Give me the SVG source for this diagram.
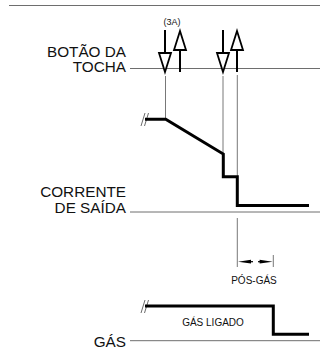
<svg xmlns="http://www.w3.org/2000/svg" width="320" height="353" viewBox="0 0 320 353">
<style>
.ref{stroke:#6e6e6e;stroke-width:1;fill:none}
.thin{stroke:#555;stroke-width:0.8;fill:none}
.wave{stroke:#000;stroke-width:3;fill:none;stroke-linejoin:miter}
.stem{stroke:#000;stroke-width:2;fill:none}
.head{stroke:#000;stroke-width:1.8;fill:#fff;stroke-linejoin:miter}
.lbl{font-family:"Liberation Sans",Arial,sans-serif;font-size:15.3px;fill:#111;text-anchor:end}
.sm{font-family:"Liberation Sans",Arial,sans-serif;font-size:10px;fill:#111;text-anchor:middle}
.brk{stroke:#444;stroke-width:0.8;fill:none}
</style>
<line class="ref" x1="9" y1="5.5" x2="320" y2="5.5"/>
<g id="button">
<text class="lbl" x="126" y="56.5">BOTÃO DA</text>
<text class="lbl" x="126" y="72">TOCHA</text>
<line class="ref" x1="130" y1="68.5" x2="320" y2="68.5"/>
<text class="sm" x="172" y="25" style="font-size:9px">(3A)</text>
<g id="press1">
<line class="stem" x1="165" y1="30" x2="165" y2="53"/>
<polygon class="head" points="159,53 171,53 165,72"/>
</g>
<g id="release1">
<line class="stem" x1="180" y1="50" x2="180" y2="72"/>
<polygon class="head" points="174,50 186,50 180,31"/>
</g>
<g id="press2">
<line class="stem" x1="223" y1="30" x2="223" y2="53"/>
<polygon class="head" points="217,53 229,53 223,72"/>
</g>
<g id="release2">
<line class="stem" x1="237" y1="50" x2="237" y2="72"/>
<polygon class="head" points="231,50 243,50 237,31"/>
</g>
</g>
<g id="connectors">
<line class="thin" x1="165.5" y1="76" x2="165.5" y2="118"/>
<line class="thin" x1="223" y1="76" x2="223" y2="153"/>
<line class="thin" x1="237.3" y1="75" x2="237.3" y2="177"/>
<line class="thin" x1="237.3" y1="218" x2="237.3" y2="267"/>
<line class="thin" x1="273.3" y1="255" x2="273.3" y2="267"/>
</g>
<g id="current">
<text class="lbl" x="126" y="197">CORRENTE</text>
<text class="lbl" x="126" y="213">DE SAÍDA</text>
<line class="ref" x1="130" y1="212" x2="320" y2="212"/>
<path class="brk" d="M141,126 L145,113 M144.5,126 L148.5,113"/>
<polyline class="wave" points="145,119.3 165.7,119.3 223.3,154 223.3,176.7 237.3,176.7 237.3,205.5 309,205.5"/>
</g>
<g id="postflow">
<polygon fill="#000" points="238,261.7 251,259.8 251,263.6"/>
<line stroke="#000" stroke-width="1.2" x1="250" y1="261.7" x2="253" y2="261.7"/>
<polygon fill="#000" points="272.6,261.7 259.6,259.8 259.6,263.6"/>
<line stroke="#000" stroke-width="1.2" x1="258" y1="261.7" x2="261" y2="261.7"/>
<text class="sm" x="254" y="283.5">PÓS-GÁS</text>
</g>
<g id="gas">
<text class="lbl" x="126" y="347">GÁS</text>
<line class="ref" x1="130" y1="340.7" x2="320" y2="340.7"/>
<path class="brk" d="M141,313 L145,300 M144.5,313 L148.5,300"/>
<polyline class="wave" points="145,306 273.3,306 273.3,334.3 309,334.3"/>
<text class="sm" x="213" y="326">GÁS LIGADO</text>
</g>
</svg>
